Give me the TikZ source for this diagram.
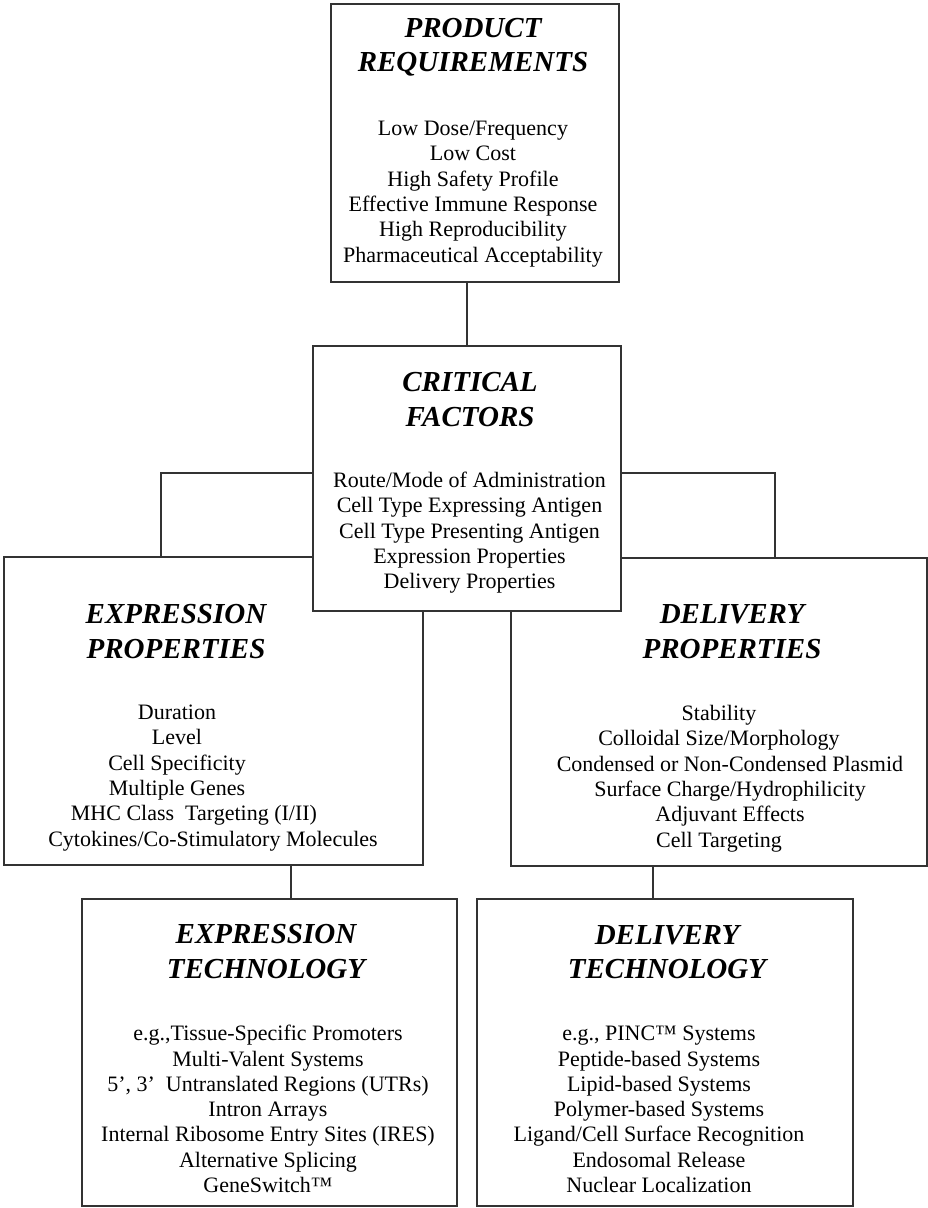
\documentclass[tikz,border=0pt]{standalone}
\usepackage{fontspec}
\setmainfont{Liberation Serif}
\tikzset{
  panel/.style={draw=black!80, line width=1.5pt, fill=white, inner sep=0pt},
  heading/.style={font=\fontsize{29}{34.5}\selectfont\bfseries\itshape, align=center, text=black},
  items/.style={font=\fontsize{22}{25.3}\selectfont, align=center, text=black},
  link/.style={draw=black!80, line width=1.5pt}
}
\begin{document}
\begin{tikzpicture}[x=1pt, y=-1pt]
\useasboundingbox (0,0) rectangle (928,1208);
% boxes (critical factors last, it covers the corners of the two property boxes)
\foreach \name/\cx/\cy/\w/\h in {pr/475/143/288/278, ep/213.5/711/419/308,
    dp/719/712/416/308, et/269.5/1052.5/375/307, dt/665/1052.5/376/307,
    cf/467/478.5/308/265}{
  \node[panel, minimum width=\w pt, minimum height=\h pt] (\name) at (\cx,\cy) {};
}
% headings
\node[heading] (prh) at (473,47) {PRODUCT\\REQUIREMENTS};
\node[heading] (cfh) at (470,399.5) {CRITICAL\\FACTORS};
\node[heading] (eph) at (176,631.5) {EXPRESSION\\PROPERTIES};
\node[heading] (dph) at (732,631.5) {DELIVERY\\PROPERTIES};
\node[heading] (eth) at (266,951.5) {EXPRESSION\\TECHNOLOGY};
\node[heading] (dth) at (667,952) {DELIVERY\\TECHNOLOGY};
% item lists
\node[items] (prl) at (473,194) {Low Dose/Frequency\\Low Cost\\High Safety Profile\\
  Effective Immune Response\\High Reproducibility\\Pharmaceutical Acceptability};
\node[items] (cfl) at (469.5,532.7) {Route/Mode of Administration\\
  Cell Type Expressing Antigen\\Cell Type Presenting Antigen\\
  Expression Properties\\Delivery Properties};
\node[items] (epl) at (177,778) {Duration\\Level\\Cell Specificity\\Multiple Genes\\
  \hspace*{34pt}MHC Class~~Targeting (I/II)\\
  \hspace*{72pt}Cytokines/Co-Stimulatory Molecules};
\node[items] (dpl) at (719,778.5) {Stability\\Colloidal Size/Morphology\\
  \hspace*{22pt}Condensed or Non-Condensed Plasmid\\
  \hspace*{22pt}Surface Charge/Hydrophilicity\\
  \hspace*{22pt}Adjuvant Effects\\Cell Targeting};
\node[items] (etl) at (268,1109) {e.g.,Tissue-Specific Promoters\\Multi-Valent Systems\\
  5', 3'~~Untranslated Regions (UTRs)\\Intron Arrays\\
  Internal Ribosome Entry Sites (IRES)\\Alternative Splicing\\GeneSwitch\texttrademark};
\node[items] (dtl) at (659,1109.5) {e.g., PINC\texttrademark{} Systems\\Peptide-based Systems\\
  Lipid-based Systems\\Polymer-based Systems\\Ligand/Cell Surface Recognition\\
  Endosomal Release\\Nuclear Localization};
% connectors
\coordinate (jl) at (161,473);
\coordinate (jr) at (775,473);
\coordinate (ek) at (291,880);
\coordinate (dk) at (653,880);
\draw[link] (cf.north) -- (cf.north |- pr.south);
\draw[link] (cf.west |- jl) -| (ep.north -| jl);
\draw[link] (cf.east |- jr) -| (dp.north -| jr);
\draw[link] (ep.south -| ek) -- (et.north -| ek);
\draw[link] (dp.south -| dk) -- (dt.north -| dk);
\end{tikzpicture}
\end{document}
